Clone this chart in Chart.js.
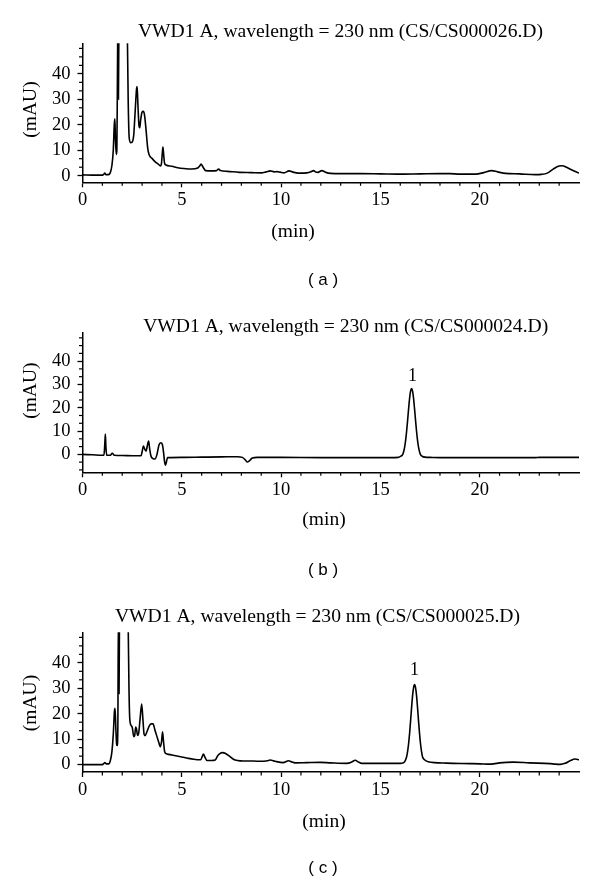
<!DOCTYPE html>
<html>
<head>
<meta charset="utf-8">
<script src="https://cdn.jsdelivr.net/npm/chart.js@4"></script>
<style>
html,body{margin:0;padding:0;background:#fff;width:600px;height:884px;overflow:hidden;}
canvas{position:absolute;left:0;}
</style>
</head>
<body>
<canvas id="ca" width="600" height="290" style="top:0px"></canvas>
<canvas id="cb" width="600" height="290" style="top:290px"></canvas>
<canvas id="cc" width="600" height="304" style="top:580px"></canvas>
<script>
// ---------- data (retention time in min, signal in mAU) ----------
const timeA = [0,0.5,1.0,1.08,1.12,1.18,1.3,1.4,1.48,1.55,1.6,1.63,1.66,1.7,1.73,1.76,1.79,1.81,1.84,1.87,1.9,2.0,2.1,2.2,2.26,2.3,2.35,2.42,2.5,2.58,2.65,2.72,2.75,2.79,2.84,2.88,2.93,3.0,3.06,3.12,3.2,3.28,3.35,3.5,3.65,3.8,3.93,3.98,4.02,4.05,4.09,4.13,4.2,4.5,4.8,5.1,5.5,5.8,5.9,5.97,6.05,6.2,6.5,6.75,6.85,6.95,7.3,7.9,8.5,9.0,9.25,9.45,9.65,9.8,9.95,10.15,10.4,10.6,10.85,11.3,11.5,11.63,11.75,11.85,12.05,12.25,12.5,13,14,15,16,17,18,18.5,19,19.8,20.2,20.6,20.9,21.3,22,22.8,23.1,23.4,23.7,24.0,24.15,24.4,24.7,25.0];
const signalA = [0.3,0.2,0.2,0.6,1.0,0.4,0.4,1.2,4,10,20,22.3,14,8.3,10,40,70,30,70,80,60,90,120,100,55,30,15,13,13.2,16,25,34,35,28,20,18.8,22,25,25.3,24,18,11,8.3,6.8,5.5,4.6,3.8,5,9,11.2,8,5,4.2,3.7,3.1,2.8,2.6,3.0,3.8,4.6,3.6,2.0,1.9,2.0,2.6,2.0,1.7,1.3,1.2,1.1,1.5,1.9,1.5,1.6,1.4,1.1,1.9,1.4,1.0,1.1,1.5,2.0,1.4,1.3,2.0,1.3,0.9,0.8,0.8,0.7,0.6,0.7,0.8,0.8,0.6,0.6,1.2,2.0,1.5,0.9,0.7,0.4,0.5,1.0,2.6,3.8,3.9,3.2,2.0,1.0];

const timeB = [0,0.5,1.0,1.08,1.12,1.15,1.18,1.22,1.4,1.5,1.6,2.0,2.5,2.95,3.0,3.07,3.12,3.2,3.26,3.33,3.38,3.45,3.55,3.65,3.75,3.85,3.94,4.02,4.08,4.13,4.18,4.22,4.28,5,6,7,7.8,8.05,8.2,8.3,8.4,8.55,8.8,10,12,14,15.5,15.9,16.02,16.12,16.17,16.22,16.27,16.32,16.37,16.42,16.47,16.52,16.57,16.62,16.67,16.72,16.77,16.82,16.87,16.92,16.97,17.02,17.1,17.25,17.5,18,20,22.8,23,25];
const signalB = [0,-0.2,-0.4,-0.4,4,8.7,3,-0.4,-0.4,0.5,-0.4,-0.5,-0.6,-0.6,1,3.6,2.5,1.4,3.5,5.7,2.5,-0.8,-1.8,-2.0,0,4,5.0,4.2,1,-3,-4.6,-3.5,-1.4,-1.3,-1.2,-1.1,-1.0,-1.3,-2.4,-3.3,-2.8,-1.6,-1.3,-1.3,-1.4,-1.4,-1.4,-1.3,-0.8,-0.1,1.1,3.1,6.0,9.9,14.6,19.5,24.0,27.1,28.2,27.1,24.0,19.5,14.6,9.9,6.0,3.1,1.1,-0.1,-0.8,-1.2,-1.3,-1.4,-1.4,-1.4,-1.3,-1.3];

const timeC = [0,0.5,1.0,1.08,1.13,1.2,1.32,1.4,1.48,1.55,1.61,1.64,1.68,1.72,1.75,1.78,1.81,1.84,1.87,1.9,1.95,2.05,2.15,2.25,2.3,2.34,2.38,2.44,2.51,2.58,2.63,2.68,2.72,2.77,2.82,2.9,2.98,3.04,3.1,3.15,3.25,3.35,3.45,3.55,3.65,3.75,3.85,3.92,3.98,4.03,4.08,4.14,4.25,4.5,4.75,5.0,5.25,5.6,5.95,6.02,6.09,6.16,6.27,6.5,6.68,6.8,6.9,7.05,7.2,7.4,7.6,7.8,8.1,8.6,9.0,9.3,9.45,9.7,10.1,10.37,10.55,10.7,11.3,11.96,12.5,13.3,13.55,13.73,13.9,14.06,15,16.0,16.12,16.22,16.27,16.32,16.37,16.42,16.47,16.52,16.57,16.62,16.67,16.72,16.77,16.82,16.87,16.92,16.97,17.02,17.07,17.12,17.22,17.4,18.35,19.5,20.03,20.4,20.7,21.0,21.7,22.5,23.55,23.8,24.05,24.3,24.55,24.8,25.0];
const signalC = [0,0,0,0.5,0.8,0.3,0.3,1.5,5,12,21,22.1,14,8,7.5,15,60,28,70,90,80,110,130,100,55,30,18,15.5,14.5,11,11.5,14.8,14,11.5,12,18,23.8,18,12,11.4,13,15,16,16,13.5,11,8.5,7,9,12.9,9,5,4.2,3.8,3.4,3.0,2.6,2.1,1.9,3,4.2,3,1.6,1.6,1.8,3.4,4.2,4.7,4.4,3.3,2.1,1.6,1.4,1.4,1.3,1.5,1.8,1.3,0.8,1.5,1.0,0.7,0.8,0.9,0.7,0.5,1.0,1.7,1.0,0.5,0.5,0.5,0.6,1.15,1.9,3.1,5.2,8.2,12.3,17.2,22.4,27.1,30.3,31.5,30.3,27.1,22.4,17.2,12.3,8.2,5.2,3.1,1.9,1.15,0.6,0.4,0.3,0.2,0.3,0.7,1.0,0.7,0.4,0.2,0.1,0.5,1.5,2.2,1.9,1.2,0.7];

const xTickValues = [0,5,10,15,20];
const xMinorTicks = [1,2,3,4,6,7,8,9,11,12,13,14,16,17,18,19,21,22,23,24];
const yTickValues = [0,10,20,30,40];
const yMinorTicks = [-6.67,-3.33,3.33,6.67,13.33,16.67,23.33,26.67,33.33,36.67,43.33,46.67,50];

const titleA = 'VWD1 A, wavelength = 230 nm (CS/CS000026.D)';
const titleB = 'VWD1 A, wavelength = 230 nm (CS/CS000024.D)';
const titleC = 'VWD1 A, wavelength = 230 nm (CS/CS000025.D)';
const yAxisTitle = '(mAU)';
const xAxisTitle = '(min)';
const panelLabels = ['( a )','( b )','( c )'];
const peakLabel = '1';
const peakB = {x: 16.62, y: 28.2};
const peakC = {x: 16.72, y: 31.5};

// ---------- drawing ----------
const SERIF = '"Liberation Serif", "DejaVu Serif", serif';
const SANS = '"Liberation Sans", Arial, sans-serif';

const extras = {
  id: 'extras',
  afterDraw(chart, args, o) {
    const ctx = chart.ctx;
    const xs = chart.scales.x, ys = chart.scales.y;
    const ca = chart.chartArea;
    ctx.save();
    ctx.strokeStyle = '#000';
    ctx.lineWidth = 1.2;
    xMinorTicks.forEach(v => {
      const px = xs.getPixelForValue(v);
      ctx.beginPath(); ctx.moveTo(px, ca.bottom); ctx.lineTo(px, ca.bottom + 3.5); ctx.stroke();
    });
    yMinorTicks.filter(v => v > ys.min && v <= ys.max).forEach(v => {
      const py = ys.getPixelForValue(v);
      ctx.beginPath(); ctx.moveTo(ca.left, py); ctx.lineTo(ca.left - 3.5, py); ctx.stroke();
    });
    ctx.fillStyle = '#000';
    (o.texts || []).forEach(t => {
      ctx.save();
      ctx.font = t.font;
      ctx.textAlign = 'center';
      ctx.textBaseline = t.baseline || 'middle';
      ctx.translate(t.x, t.y);
      if (t.rotate) ctx.rotate(t.rotate);
      ctx.fillText(t.text, 0, 0);
      ctx.restore();
    });
    if (o.peak) {
      ctx.font = '18px ' + SERIF;
      ctx.textAlign = 'center';
      ctx.textBaseline = 'alphabetic';
      ctx.fillText(peakLabel, xs.getPixelForValue(o.peak.x), ys.getPixelForValue(o.peak.y) - o.peakGap);
    }
    ctx.restore();
  }
};

function scales(ymin, ymax) {
  const tickFont = {family: SERIF, size: 18.5};
  const grid = {drawOnChartArea: false, drawTicks: true, tickLength: 5, tickColor: '#000', tickWidth: 1.3};
  const border = {display: true, color: '#000', width: 1.5};
  return {
    x: {
      type: 'linear', min: 0, max: 25,
      afterFit: s => { s.height = 60; },
      afterBuildTicks: s => { s.ticks = xTickValues.map(v => ({value: v})); },
      ticks: {font: tickFont, color: '#000', padding: 2, maxRotation: 0, autoSkip: false, callback: v => String(v)},
      grid: grid, border: border
    },
    y: {
      type: 'linear', min: ymin, max: ymax,
      afterFit: s => { s.width = 82.5; },
      afterBuildTicks: s => { s.ticks = yTickValues.map(v => ({value: v})); },
      ticks: {font: tickFont, color: '#000', padding: 7, autoSkip: false, callback: v => String(v)},
      grid: grid, border: border
    }
  };
}

function makeChart(id, times, values, ymin, ymax, padTop, height, plotBottom, extraOpts) {
  return new Chart(document.getElementById(id), {
    type: 'line',
    data: {
      datasets: [{
        data: times.map((t, i) => ({x: t, y: values[i]})),
        borderColor: '#000', borderWidth: 1.6, pointRadius: 0,
        cubicInterpolationMode: 'monotone', fill: false
      }]
    },
    options: {
      responsive: false, animation: false, devicePixelRatio: 1,
      layout: {padding: {left: 0, right: 21, top: padTop, bottom: height - plotBottom - 60}},
      plugins: {legend: {display: false}, tooltip: {enabled: false}, title: {display: false}, extras: extraOpts},
      scales: scales(ymin, ymax)
    },
    plugins: [extras]
  });
}

const titleFont = '19.6px ' + SERIF;
const axisFont = '19.5px ' + SERIF;
const labelFont = '17px ' + SANS;

makeChart('ca', timeA, signalA, -2.6, 52, 43.3, 290, 182.3, {
  texts: [
    {text: titleA, x: 340.5, y: 36.7, font: titleFont, baseline: 'alphabetic'},
    {text: yAxisTitle, x: 30.8, y: 109.5, font: axisFont, rotate: -Math.PI / 2},
    {text: xAxisTitle, x: 293, y: 232, font: axisFont},
    {text: panelLabels[0], x: 323, y: 280, font: labelFont}
  ]
});
makeChart('cb', timeB, signalB, -7.7, 52.2, 42.7, 290, 182.3, {
  texts: [
    {text: titleB, x: 345.7, y: 41.7, font: titleFont, baseline: 'alphabetic'},
    {text: yAxisTitle, x: 31.3, y: 100.7, font: axisFont, rotate: -Math.PI / 2},
    {text: xAxisTitle, x: 324, y: 230, font: axisFont},
    {text: panelLabels[1], x: 323, y: 280, font: labelFont}
  ],
  peak: peakB, peakGap: 8
});
makeChart('cc', timeC, signalC, -2.9, 52, 52.3, 304, 192, {
  texts: [
    {text: titleC, x: 317.5, y: 41.7, font: titleFont, baseline: 'alphabetic'},
    {text: yAxisTitle, x: 31, y: 123, font: axisFont, rotate: -Math.PI / 2},
    {text: xAxisTitle, x: 324, y: 242, font: axisFont},
    {text: panelLabels[2], x: 323, y: 288, font: labelFont}
  ],
  peak: peakC, peakGap: 9
});
</script>
</body>
</html>
